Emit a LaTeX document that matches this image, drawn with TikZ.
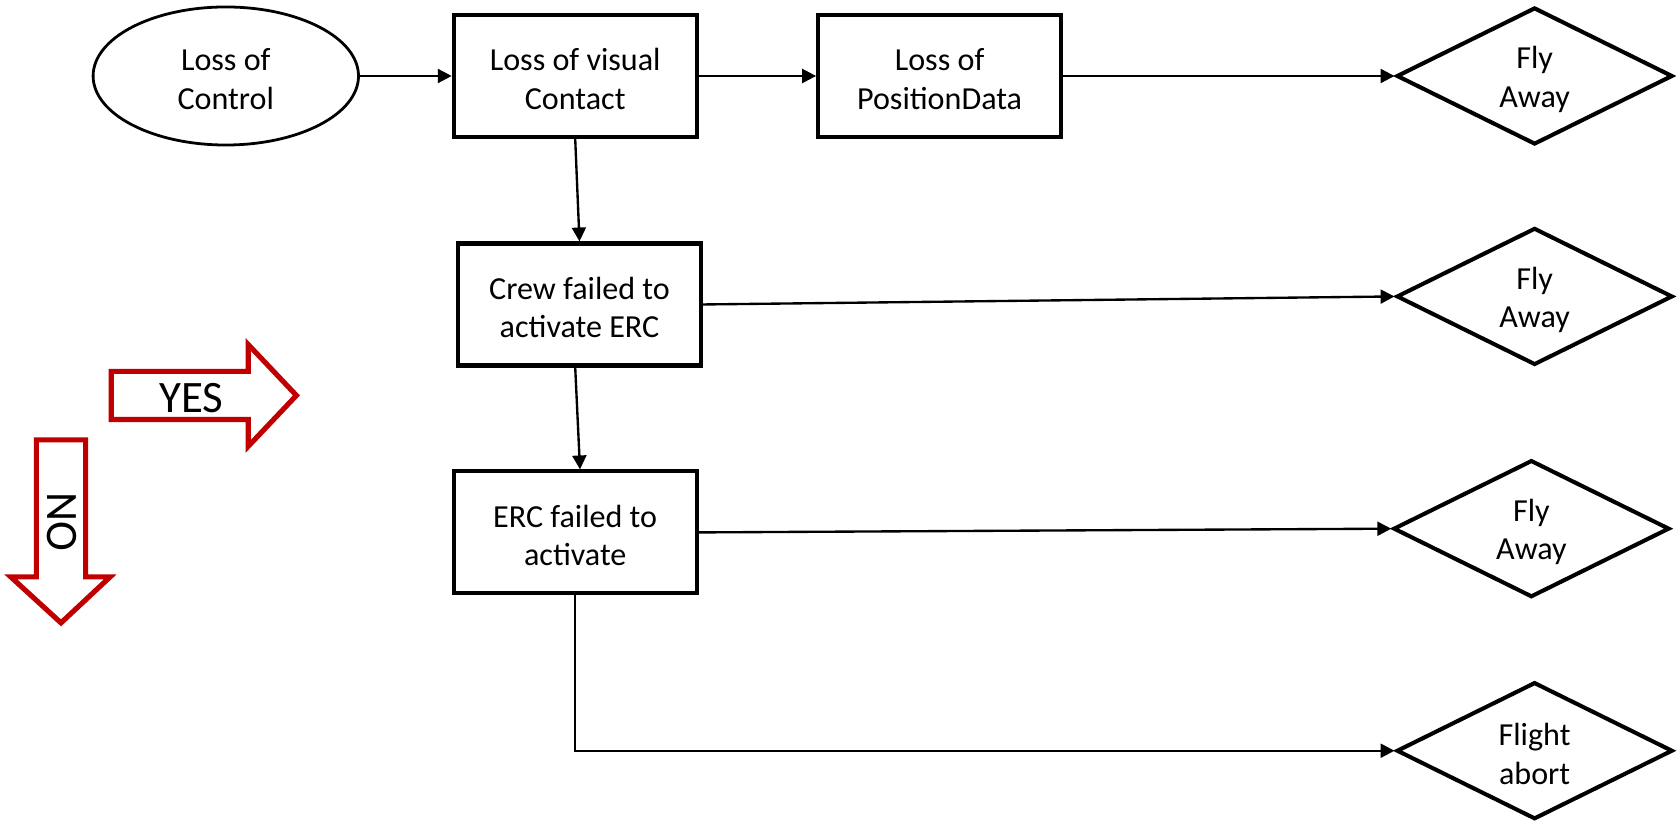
\documentclass[tikz,border=0pt]{standalone}
\usepackage{fontspec}
\setmainfont{Carlito}
\usetikzlibrary{shapes.geometric,arrows.meta}
\definecolor{arrowred}{HTML}{C00000}
% fixed-size strut so two-line labels sit evenly inside their shapes
\newcommand\boxstrut{\rule[-0.34pt]{0pt}{14pt}}

\begin{document}
\begin{tikzpicture}[x=0.5pt,y=-0.5pt,
  lbl/.style={font=\fontsize{15}{18}\selectfont, align=center, inner sep=0pt},
  stepbox/.style={lbl, draw, line width=1.9pt, rectangle, minimum width=113.5pt, minimum height=57pt},
  startnode/.style={lbl, draw, line width=1.3pt, ellipse, minimum width=124pt, minimum height=64.5pt},
  outcome/.style={lbl, draw, line width=1.9pt, diamond, aspect=2, minimum width=129pt, minimum height=64pt},
  conn/.style={line width=1.1pt, -{Triangle[length=6.5pt,width=6.5pt]}},
  bigarrow/.style={draw=arrowred, line width=2.4pt, fill=white, line join=miter},
  biglabel/.style={font=\fontsize{21}{25}\selectfont, inner sep=0pt},
]
\useasboundingbox (0,0) rectangle (1568,767);

% main chain
\node[startnode] (lc) at (211,71) {\boxstrut Loss of\\\boxstrut Control};
\node[stepbox] (lv) at (537.5,71) {\boxstrut Loss of visual\\\boxstrut Contact};
\node[stepbox] (lp) at (878,71) {\boxstrut Loss of\\\boxstrut PositionData};
\node[outcome] (fa1) at (1434,71) {\boxstrut Fly\\\boxstrut Away};

\node[stepbox] (cf) at (541.5,284.5) {\boxstrut Crew failed to\\\boxstrut activate ERC};
\node[outcome] (fa2) at (1434,277) {\boxstrut Fly\\\boxstrut Away};

\node[stepbox] (ef) at (537.5,497.5) {\boxstrut ERC failed to\\\boxstrut activate};
\node[outcome] (fa3) at (1431,494) {\boxstrut Fly\\\boxstrut Away};

\node[outcome] (fab) at (1434,701.5) {\boxstrut Flight\\\boxstrut abort};

% connectors
\draw[conn] (lc) -- (lv);
\draw[conn] (lv) -- (lp);
\draw[conn] (lp) -- (fa1);
\draw[conn] (lv.south) -- (cf.north);
\draw[conn] (cf.east) -- (fa2.west);
\draw[conn] ([xshift=-2pt]cf.south) -- ([xshift=2.25pt]ef.north);
\draw[conn] (ef.east) -- (fa3.west);
\draw[conn] (ef.south) |- (fab.west);

% legend arrows
\draw[bigarrow] (104,347) -- (232,347) -- (232,322) -- (277,369.5) -- (232,417) -- (232,392) -- (104,392) -- cycle;
\node[biglabel] (yes) at (179,371.5) {YES};
\draw[bigarrow] (34,411) -- (80,411) -- (80,539) -- (103,539) -- (57,582) -- (10,539) -- (34,539) -- cycle;
\node[biglabel, rotate=-90] (no) at (57.5,487.5) {NO};
\end{tikzpicture}
\end{document}
